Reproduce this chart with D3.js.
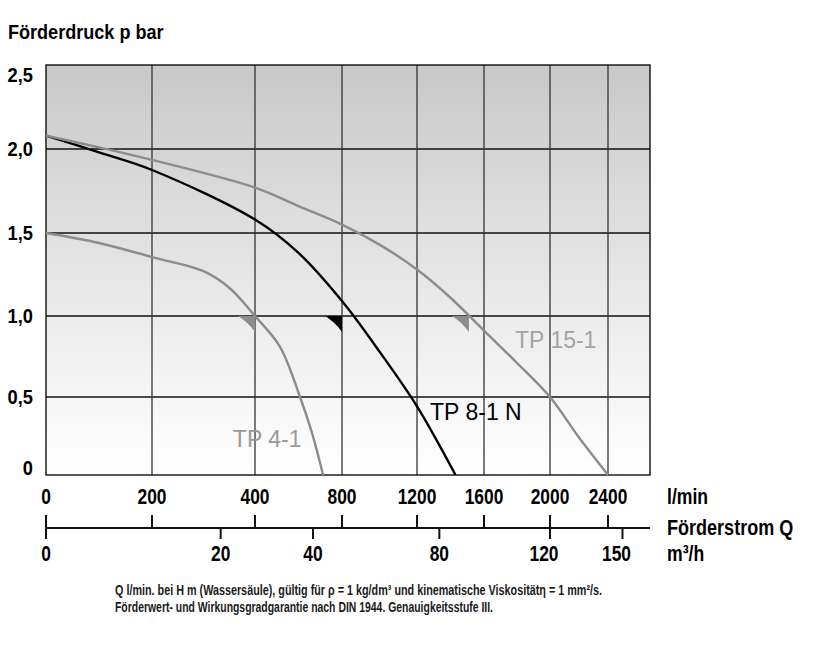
<!DOCTYPE html>
<html>
<head>
<meta charset="utf-8">
<script src="https://cdn.jsdelivr.net/npm/d3@7"></script>
<style>
  body { margin: 0; background: #fff; }
  svg text { font-family: "Liberation Sans", Arial, sans-serif; }
</style>
</head>
<body>
<svg id="chart" width="817" height="654"></svg>
<script>
// Förderstrom ticks in l/min (non uniform spacing on the original sheet)
const flowTicks = [0, 200, 400, 800, 1200, 1600, 2000, 2400];
const flowEnd = 2690;
const m3hTicks = [0, 20, 40, 80, 120, 150];
const pressureTicks = [0, 0.5, 1, 1.5, 2, 2.5];
const pressureLabels = ["0", "0,5", "1,0", "1,5", "2,0", "2,5"];

// pump curves, Q in l/min, p in bar
const tp41Q = [0, 100, 200, 300, 350, 400, 515, 607, 662, 713];
const tp41P = [1.5, 1.44, 1.355, 1.27, 1.17, 1.0, 0.81, 0.5, 0.27, 0];
const tp81Q = [0, 100, 200, 400, 600, 800, 1000, 1200, 1430];
const tp81P = [2.08, 1.98, 1.875, 1.58, 1.38, 1.09, 0.78, 0.44, 0];
const tp151Q = [0, 100, 200, 400, 600, 800, 1000, 1200, 1400, 1600, 1800, 2000, 2200, 2400];
const tp151P = [2.08, 2.01, 1.935, 1.77, 1.66, 1.55, 1.43, 1.28, 1.11, 0.91, 0.71, 0.5, 0.24, 0];

const curveNames = ["TP 4-1", "TP 8-1 N", "TP 15-1"];
const curveColors = ["#8c8c8c", "#000000", "#8c8c8c"];
const labelColors = ["#999999", "#000000", "#a3a3a3"];
const labelQ = [357, 1278, 1788];
const labelP = [0.18, 0.353, 0.80];
const markerQ = [400, 800, 1510];
const markerP = [1.0, 1.0, 1.0];

const svg = d3.select("#chart");

const x = d3.scaleLinear()
  .domain([...flowTicks, flowEnd])
  .range([46, 152, 255, 342, 417, 484, 550, 608, 650]);
const y = d3.scaleLinear()
  .domain(pressureTicks)
  .range([475, 397, 316, 233, 149, 65]);
const xm3 = v => x(v * 1000 / 60);

// the sheet uses a condensed bold face, squeeze the glyphs
function narrow(sel, k) {
  sel.each(function() {
    const len = this.getComputedTextLength();
    d3.select(this).attr("textLength", len * k).attr("lengthAdjust", "spacingAndGlyphs");
  });
}

// background gradient
const grad = svg.append("defs").append("linearGradient")
  .attr("id", "bg").attr("x1", 0).attr("y1", 0).attr("x2", 0).attr("y2", 1);
grad.append("stop").attr("offset", 0).attr("stop-color", "#c8c8c8");
grad.append("stop").attr("offset", 0.6).attr("stop-color", "#ebebeb");
grad.append("stop").attr("offset", 1).attr("stop-color", "#ffffff");

svg.append("rect")
  .attr("x", x(0)).attr("y", y(2.5))
  .attr("width", x(flowEnd) - x(0)).attr("height", y(0) - y(2.5))
  .attr("fill", "url(#bg)");

// grid
svg.append("g").selectAll("line")
  .data(pressureTicks.slice(1, -1))
  .join("line")
  .attr("x1", x(0)).attr("x2", x(flowEnd))
  .attr("y1", d => y(d)).attr("y2", d => y(d))
  .attr("stroke", "#111").attr("stroke-width", 1.3);

svg.append("g").selectAll("line")
  .data(flowTicks.slice(1))
  .join("line")
  .attr("x1", d => x(d)).attr("x2", d => x(d))
  .attr("y1", y(0)).attr("y2", y(2.5))
  .attr("stroke", "#333").attr("stroke-width", 1.3);

svg.append("rect")
  .attr("x", x(0)).attr("y", y(2.5))
  .attr("width", x(flowEnd) - x(0)).attr("height", y(0) - y(2.5))
  .attr("fill", "none").attr("stroke", "#111").attr("stroke-width", 1.4);

// curves
const line = d3.line().curve(d3.curveCatmullRom.alpha(0.5));
const curves = [[tp41Q, tp41P], [tp81Q, tp81P], [tp151Q, tp151P]];
curves.forEach((c, i) => {
  const pts = c[0].map((q, j) => [x(q), y(c[1][j])]);
  svg.append("path")
    .attr("d", line(pts))
    .attr("fill", "none")
    .attr("stroke", curveColors[i])
    .attr("stroke-width", 2.4);
});

// operating point wedges
markerQ.forEach((q, i) => {
  const mx = x(q), my = y(markerP[i]);
  svg.append("path")
    .attr("d", `M${mx - 17},${my} L${mx},${my} L${mx},${my + 16} Q${mx - 7},${my + 6} ${mx - 17},${my} Z`)
    .attr("fill", curveColors[i]);
});

// curve labels
svg.append("g").selectAll("text")
  .data(curveNames)
  .join("text")
  .attr("x", (d, i) => x(labelQ[i]))
  .attr("y", (d, i) => y(labelP[i]))
  .attr("fill", (d, i) => labelColors[i])
  .style("font-size", "23px")
  .text(d => d);

// y labels
svg.append("g").selectAll("text")
  .data(pressureTicks)
  .join("text")
  .attr("x", 33)
  .attr("y", d => d === 2.5 ? y(d) + 10 : d === 0 ? y(d) - 7 : y(d))
  .attr("dy", "0.35em")
  .attr("text-anchor", "end")
  .style("font-size", "21px").style("font-weight", "bold")
  .text((d, i) => pressureLabels[i])
  .call(narrow, 0.87);

svg.append("text")
  .attr("x", 8).attr("y", 39)
  .style("font-size", "21px").style("font-weight", "bold")
  .text("Förderdruck p bar")
  .call(narrow, 0.86);

// l/min labels
svg.append("g").selectAll("text")
  .data(flowTicks)
  .join("text")
  .attr("x", d => x(d))
  .attr("y", 504)
  .attr("text-anchor", "middle")
  .style("font-size", "22px").style("font-weight", "bold")
  .text(d => d)
  .call(narrow, 0.79);

svg.append("text").attr("x", 667).attr("y", 504)
  .style("font-size", "22px").style("font-weight", "bold").text("l/min")
  .call(narrow, 0.8);

// second axis: Förderstrom Q
const axisY = 528;
svg.append("line")
  .attr("x1", x(0)).attr("x2", x(flowEnd))
  .attr("y1", axisY).attr("y2", axisY)
  .attr("stroke", "#111").attr("stroke-width", 2);

svg.append("g").selectAll("line")
  .data(flowTicks)
  .join("line")
  .attr("x1", d => x(d)).attr("x2", d => x(d))
  .attr("y1", axisY - 13).attr("y2", d => d === 0 ? axisY + 11 : axisY)
  .attr("stroke", "#111").attr("stroke-width", 2);

svg.append("g").selectAll("line")
  .data(m3hTicks)
  .join("line")
  .attr("x1", d => xm3(d)).attr("x2", d => xm3(d))
  .attr("y1", axisY).attr("y2", axisY + 11)
  .attr("stroke", "#111").attr("stroke-width", 2);

svg.append("g").selectAll("text")
  .data(m3hTicks)
  .join("text")
  .attr("x", d => xm3(d) - (d >= 120 ? 6 : 0))
  .attr("y", 561)
  .attr("text-anchor", "middle")
  .style("font-size", "22px").style("font-weight", "bold")
  .text(d => d)
  .call(narrow, 0.79);

svg.append("text")
  .attr("transform", "translate(667,535) scale(0.82,1)")
  .style("font-size", "22px").style("font-weight", "bold").text("Förderstrom Q");
svg.append("text").attr("x", 667).attr("y", 561)
  .style("font-size", "22px").style("font-weight", "bold").text("m³/h")
  .call(narrow, 0.8);

// footnote
const notes = [
  "Q l/min. bei H m (Wassersäule), gültig für ρ = 1 kg/dm³ und kinematische Viskositätη = 1 mm²/s.",
  "Förderwert- und Wirkungsgradgarantie nach DIN 1944. Genauigkeitsstufe III."
];
const noteWidths = [487, 378];
svg.append("g").selectAll("text")
  .data(notes)
  .join("text")
  .attr("x", 115)
  .attr("y", (d, i) => 595 + i * 17)
  .attr("textLength", (d, i) => noteWidths[i])
  .attr("lengthAdjust", "spacingAndGlyphs")
  .style("font-size", "14px").style("font-weight", "bold")
  .attr("fill", "#1a1a1a")
  .text(d => d);
</script>
</body>
</html>
